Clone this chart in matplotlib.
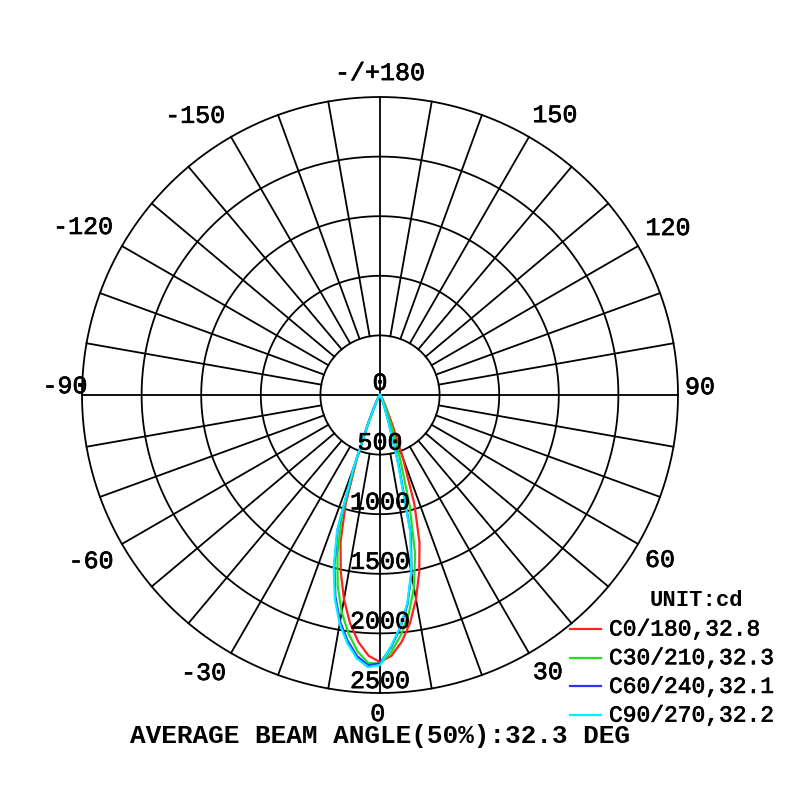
import numpy as np
import matplotlib.pyplot as plt
import matplotlib.patheffects as pe
from matplotlib.lines import Line2D

# gamma angles (deg) measured from nadir, same steps for both halves
gamma = [0, 2.5, 5, 7.5, 10, 12.5, 15, 17.5, 20, 22.5, 25, 27.5, 30, 35, 40, 45, 50, 60, 70, 80, 90]

# intensity (cd), right half (+gamma) and left half (-gamma)
c0_right = [2240, 2190, 2080, 1930, 1740, 1520, 1280, 960, 560, 280, 140, 80, 45, 15, 5, 0, 0, 0, 0, 0, 0]
c0_left = [2240, 2190, 2080, 1930, 1740, 1520, 1280, 960, 560, 280, 140, 80, 45, 15, 5, 0, 0, 0, 0, 0, 0]
c30_right = [2255, 2160, 2020, 1850, 1640, 1360, 960, 560, 300, 160, 90, 50, 30, 10, 3, 0, 0, 0, 0, 0, 0]
c30_left = [2255, 2250, 2160, 2020, 1850, 1640, 1380, 1060, 600, 270, 130, 70, 40, 13, 5, 0, 0, 0, 0, 0, 0]
c60_right = [2250, 2120, 1960, 1770, 1520, 1200, 600, 240, 110, 60, 35, 20, 12, 5, 0, 0, 0, 0, 0, 0, 0]
c60_left = [2250, 2270, 2200, 2080, 1930, 1730, 1480, 1180, 630, 255, 120, 60, 35, 12, 5, 0, 0, 0, 0, 0, 0]
c90_right = [2265, 2110, 1950, 1760, 1510, 1170, 560, 230, 110, 60, 35, 20, 12, 5, 0, 0, 0, 0, 0, 0, 0]
c90_left = [2265, 2285, 2220, 2100, 1950, 1750, 1500, 1200, 640, 260, 120, 60, 35, 12, 5, 0, 0, 0, 0, 0, 0]

series_names = ["C0/180,32.8", "C30/210,32.3", "C60/240,32.1", "C90/270,32.2"]
series_colors = ["#ff2020", "#20e020", "#3030ff", "#00f0ff"]

ring_values = [500, 1000, 1500, 2000, 2500]
ring_labels = ["500", "1000", "1500", "2000", "2500"]
angle_labels = ["0", "30", "60", "90", "120", "150", "-/+180", "-150", "-120", "-90", "-60", "-30"]

FONT = "Liberation Mono"
rmax = 2500
thick = [pe.withStroke(linewidth=0.5, foreground="black")]

fig = plt.figure(figsize=(8, 8), dpi=100)
ax = fig.add_axes([0.1025, 0.13375, 0.745, 0.745], projection="polar")
ax.set_theta_zero_location("S")
ax.set_theta_direction(1)
ax.set_rlim(0, rmax)
ax.set_axis_off()

# grid: rings
full = np.linspace(0, 2 * np.pi, 721)
for rv in ring_values:
    ax.plot(full, np.full_like(full, rv), color="black", lw=1.3, zorder=1, clip_on=False)

# grid: spokes every 10 deg outside the first ring, axes through the centre
for a in range(0, 360, 10):
    th = np.deg2rad(a)
    r0 = 0 if a % 90 == 0 else ring_values[0]
    ax.plot([th, th], [r0, rmax], color="black", lw=1.3, zorder=1, clip_on=False)

# curves
halves = [(c0_left, c0_right), (c30_left, c30_right), (c60_left, c60_right), (c90_left, c90_right)]
for (left, right), col in zip(halves, series_colors):
    th = [-g for g in gamma[::-1]] + gamma[1:]
    rr = left[::-1] + right[1:]
    ax.plot(np.deg2rad(th), rr, color=col, lw=1.6, zorder=3)

# radial labels along the 0 direction
ax.text(0, 0, "0", family=FONT, fontsize=18, ha="center", va="bottom", zorder=4,
        path_effects=thick)
for rv, lab in zip(ring_values, ring_labels):
    ax.text(0, rv - 100, lab, family=FONT, fontsize=18, ha="center", va="center", zorder=4,
            path_effects=thick)

# angle labels, placed where the reference puts them (slightly irregular)
label_theta = [-0.4, 31.2, 59.5, 91.4, 120.1, 148, 180, -146.5, -119.5, -91.6, -60.1, -32.4]
label_r = [2676, 2718, 2726, 2685, 2793, 2769, 2701, 2809, 2862, 2644, 2796, 2762]
for th, lr, lab in zip(label_theta, label_r, angle_labels):
    ax.text(np.deg2rad(th), lr, lab, family=FONT, fontsize=18, ha="center", va="center",
            clip_on=False, path_effects=thick)

# legend
fig.text(696 / 800, 1 - 600 / 800, "UNIT:cd", family=FONT, fontsize=16, weight="bold",
         ha="center", va="center")
for i, (name, col) in enumerate(zip(series_names, series_colors)):
    y = 1 - (629 + i * 28.7) / 800
    fig.add_artist(Line2D([570 / 800, 601 / 800], [y, y], color=col, lw=1.6))
    fig.text(609 / 800, y, name, family=FONT, fontsize=16.5, ha="left", va="center",
             path_effects=thick)

fig.text(380 / 800, 1 - 736 / 800, "AVERAGE BEAM ANGLE(50%):32.3 DEG", family=FONT,
         fontsize=18.8, weight="bold", ha="center", va="center")

fig.savefig("out.png", dpi=100, facecolor="white")
